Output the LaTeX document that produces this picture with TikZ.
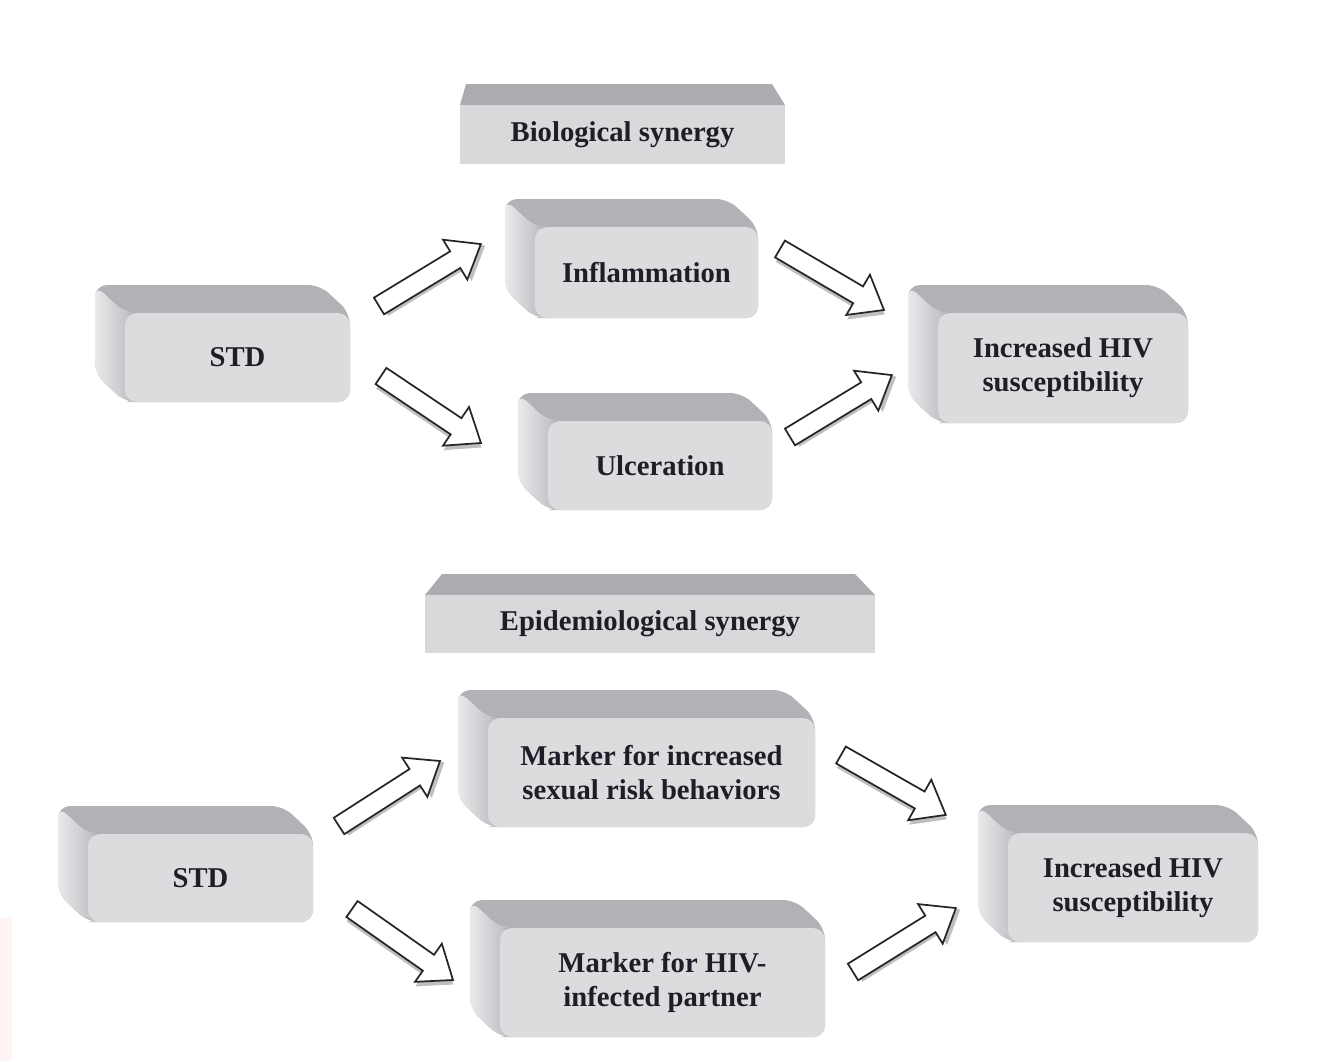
\documentclass[tikz,border=0pt]{standalone}
\usepackage{fontspec}
\setmainfont{Liberation Serif}
\usetikzlibrary{calc}
\definecolor{frontc}{HTML}{DCDCDE}
\definecolor{topc}{HTML}{B1B2B6}
\definecolor{sidel}{HTML}{EAEAEC}
\definecolor{sided}{HTML}{B6B7BB}
\definecolor{labtop}{HTML}{ABACB0}
\definecolor{labfront}{HTML}{D9D9DB}
\definecolor{txt}{HTML}{1E1E28}
\definecolor{pinkish}{HTML}{FFF4F4}
\tikzset{
  boxtext/.style={text=txt, font=\fontsize{21.5}{25.5}\selectfont\bfseries, align=center, inner sep=0pt},
  frontbox/.style={boxtext, rectangle, rounded corners=9pt, fill=frontc},
  labelbox/.style={boxtext, rectangle, fill=labfront},
  arrowbody/.style={draw=black!85, line width=1.3pt, fill=white, line join=miter},
  arrowshadow/.style={fill=black!45, opacity=0.55},
}
\newcommand\cubebox[6]{%
  \fill[topc, rounded corners=9pt] (#2-30,#3-28) -- (#4-30,#3-28) -- (#4,#3) -- (#4,#5) -- (#2,#5) -- (#2-30,#5-28) -- cycle;
  \shade[left color=sidel, right color=sided, rounded corners=9pt] (#2-30,#3-28) -- (#2,#3) -- (#2+12,#3) -- (#2+12,#5) -- (#2,#5) -- (#2-30,#5-28) -- cycle;
  \node[frontbox, minimum width={(#4-#2)*0.75pt}, minimum height={(#5-#3)*0.75pt}] (#1) at ({(#2+#4)/2},{(#3+#5)/2}) {#6};}
\newcommand\blockarrow[2]{%
  \path let \p1=($(#2)-(#1)$), \n1={atan2(\y1,\x1)}, \n2={veclen(\x1,\y1)} in \pgfextra{\xdef\arrang{\n1}\xdef\arrlen{\n2}};
  \begin{scope}[shift={(#1)}, rotate=\arrang, x=1pt, y=1pt]
    \fill[arrowshadow, shift={(2.2,-2.6)}] (0,7.3) -- ({\arrlen-22.5},7.3) -- ({\arrlen-22.5},17.5) -- ({\arrlen},0) -- ({\arrlen-22.5},-17.5) -- ({\arrlen-22.5},-7.3) -- (0,-7.3) -- cycle;
    \draw[arrowbody] (0,7.3) -- ({\arrlen-22.5},7.3) -- ({\arrlen-22.5},17.5) -- ({\arrlen},0) -- ({\arrlen-22.5},-17.5) -- ({\arrlen-22.5},-7.3) -- (0,-7.3) -- cycle;
  \end{scope}}
\begin{document}
\begin{tikzpicture}[x=0.75pt,y=-0.75pt]
\useasboundingbox (0,0) rectangle (1317,1061);
\fill[white] (0,0) rectangle (1317,1061);
\fill[pinkish] (0,918) rectangle (12,1061);

% Biological synergy section
\fill[labtop] (460,105) -- (466,84) -- (772,84) -- (785,105) -- cycle;
\node[labelbox, minimum width={325*0.75pt}, minimum height={59*0.75pt}] (bio) at (622.5,134.5) {Biological synergy};

\cubebox{std1}{125}{313}{350}{402}{STD}
\cubebox{infl}{535}{227}{758}{318}{Inflammation}
\cubebox{ulc}{548}{421}{772}{510}{Ulceration}
\cubebox{hiv1}{938}{313}{1188}{423}{Increased HIV\\ susceptibility}

% Epidemiological synergy section
\fill[labtop] (425,595) -- (442,574) -- (855,574) -- (875,595) -- cycle;
\node[labelbox, minimum width={450*0.75pt}, minimum height={58*0.75pt}] (epi) at (650,624) {Epidemiological synergy};

\cubebox{std2}{88}{834}{313}{922}{STD}
\cubebox{mk1}{488}{718}{815}{827}{Marker for increased\\ sexual risk behaviors}
\cubebox{mk2}{500}{928}{825}{1037}{Marker for HIV-\\infected partner}
\cubebox{hiv2}{1008}{833}{1258}{942}{Increased HIV\\ susceptibility}

% arrow end points
\coordinate (a1t) at (379,306); \coordinate (a1h) at (481,244);
\coordinate (a2t) at (381,376); \coordinate (a2h) at (481,443);
\coordinate (a3t) at (780,249); \coordinate (a3h) at (884,310);
\coordinate (a4t) at (790,437); \coordinate (a4h) at (892,375);
\coordinate (a5t) at (339,826); \coordinate (a5h) at (440,761);
\coordinate (a6t) at (352,909); \coordinate (a6h) at (453,980);
\coordinate (a7t) at (841,755); \coordinate (a7h) at (946,815);
\coordinate (a8t) at (853,972); \coordinate (a8h) at (956,908);

\blockarrow{a1t}{a1h}
\blockarrow{a2t}{a2h}
\blockarrow{a3t}{a3h}
\blockarrow{a4t}{a4h}
\blockarrow{a5t}{a5h}
\blockarrow{a6t}{a6h}
\blockarrow{a7t}{a7h}
\blockarrow{a8t}{a8h}
\end{tikzpicture}
\end{document}
